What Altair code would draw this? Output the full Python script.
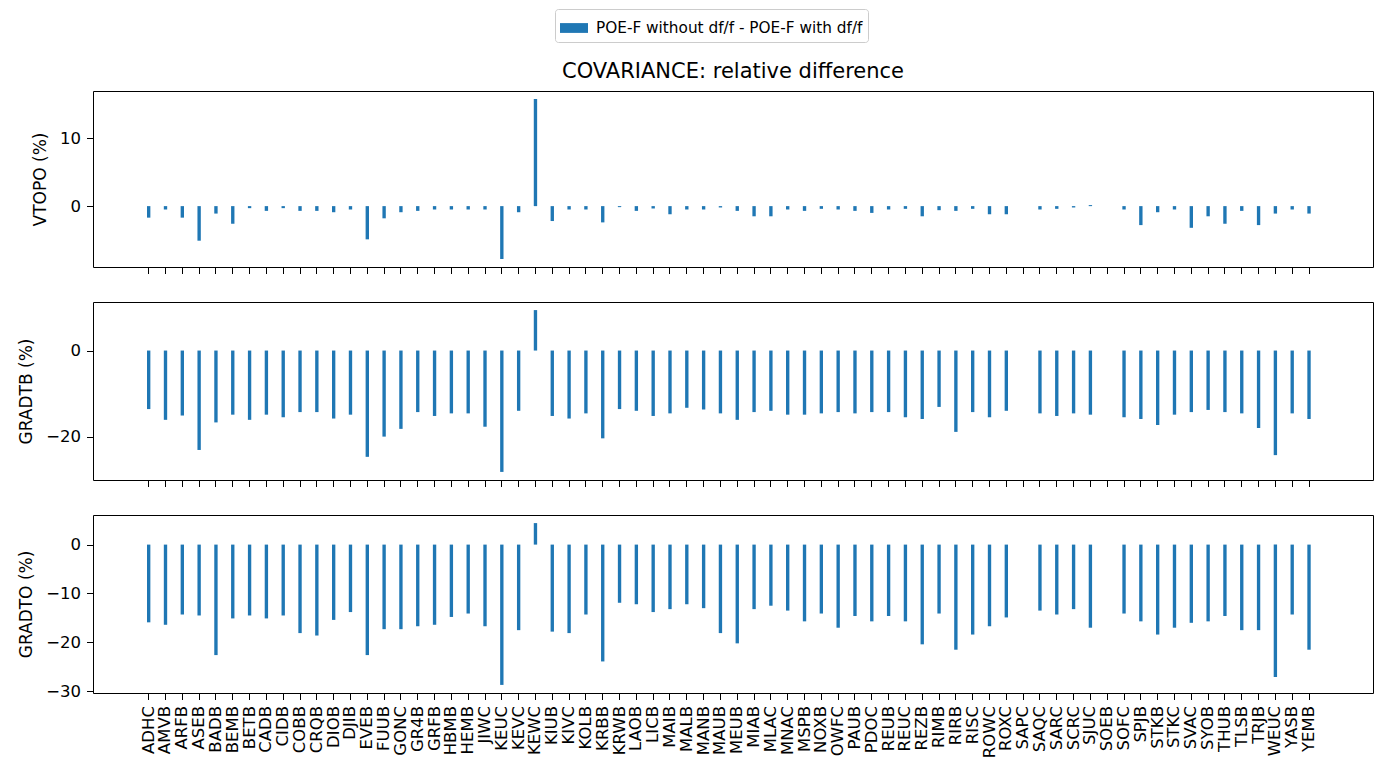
import altair as alt
import pandas as pd

stations = ["ADHC", "AMVB", "ARFB", "ASEB", "BADB", "BEMB", "BETB", "CADB", "CIDB", "COBB",
            "CRQB", "DIOB", "DJIB", "EVEB", "FUUB", "GONC", "GR4B", "GRFB", "HBMB", "HEMB",
            "JIWC", "KEUC", "KEVC", "KEWC", "KIUB", "KIVC", "KOLB", "KRBB", "KRWB", "LAOB",
            "LICB", "MAIB", "MALB", "MANB", "MAUB", "MEUB", "MIAB", "MLAC", "MNAC", "MSPB",
            "NOXB", "OWFC", "PAUB", "PDOC", "REUB", "REUC", "REZB", "RIMB", "RIRB", "RISC",
            "ROWC", "ROXC", "SAPC", "SAQC", "SARC", "SCRC", "SJUC", "SOEB", "SOFC", "SPJB",
            "STKB", "STKC", "SVAC", "SYOB", "THUB", "TLSB", "TRJB", "WEUC", "YASB", "YEMB"]

vtopo = [-1.7, -0.5, -1.7, -5.1, -1.1, -2.6, -0.3, -0.7, -0.3, -0.7,
         -0.7, -0.9, -0.5, -4.9, -1.8, -0.9, -0.7, -0.5, -0.5, -0.5,
         -0.5, -7.8, -0.9, 15.8, -2.2, -0.5, -0.5, -2.4, -0.15, -0.7,
         -0.35, -1.2, -0.5, -0.5, -0.2, -0.7, -1.5, -1.5, -0.5, -0.7,
         -0.4, -0.5, -0.7, -1.0, -0.5, -0.4, -1.5, -0.6, -0.7, -0.4,
         -1.2, -1.2, None, -0.5, -0.4, -0.2, 0.15, None, -0.5, -2.8,
         -0.9, -0.5, -3.2, -1.5, -2.6, -0.7, -2.8, -1.1, -0.5, -1.1]

gradtb = [-13.6, -16.1, -15.1, -23.1, -16.7, -14.9, -16.1, -14.9, -15.5, -14.3,
          -14.3, -15.8, -14.9, -24.7, -20.0, -18.2, -14.3, -15.2, -14.6, -14.6,
          -17.7, -28.2, -14.0, 9.4, -15.2, -15.8, -14.6, -20.4, -13.6, -14.0,
          -15.2, -14.6, -13.3, -13.7, -14.6, -16.1, -14.3, -14.0, -14.9, -14.9,
          -14.6, -14.3, -14.6, -14.3, -14.3, -15.5, -15.9, -13.1, -18.9, -14.3,
          -15.5, -14.0, None, -14.6, -15.2, -14.6, -14.9, None, -15.5, -15.9,
          -17.3, -14.9, -14.3, -13.8, -14.3, -14.6, -18.0, -24.3, -14.6, -15.9]

gradto = [-15.9, -16.4, -14.3, -14.5, -22.6, -15.1, -14.5, -15.1, -14.5, -18.1,
          -18.6, -15.4, -13.8, -22.6, -17.3, -17.3, -16.7, -16.4, -14.8, -14.1,
          -16.7, -28.7, -17.5, 4.4, -17.8, -18.1, -14.3, -23.9, -11.9, -12.2,
          -13.8, -13.2, -12.2, -13.0, -18.1, -20.2, -13.2, -12.5, -13.5, -15.7,
          -14.1, -17.0, -14.6, -15.7, -14.6, -15.7, -20.4, -14.1, -21.5, -18.4,
          -16.7, -14.9, None, -13.5, -14.3, -13.2, -17.0, None, -14.1, -15.7,
          -18.4, -17.0, -16.0, -15.7, -14.6, -17.5, -17.5, -27.1, -14.3, -21.5]

vtopo_ticks = [0, 10]
gradtb_ticks = [-20, 0]
gradto_ticks = [-30, -20, -10, 0]

series_name = "POE-F without df/f - POE-F with df/f"
chart_title = "COVARIANCE: relative difference"

df = pd.DataFrame({"station": stations, "VTOPO": vtopo, "GRADTB": gradtb,
                   "GRADTO": gradto, "series": series_name})

FONT = "DejaVu Sans"
BLUE = "#1f77b4"


def padded(vals):
    v = [x for x in vals if x is not None]
    lo, hi = min(v), max(v)
    m = 0.05 * (hi - lo)
    return [lo - m, hi + m]


def panel(field, ticks, height, show_labels, title=None):
    x = alt.X("station:N", sort=stations, title=None,
              scale=alt.Scale(paddingInner=0.8, paddingOuter=0, range=[54, 1217.7]),
              axis=alt.Axis(labels=show_labels, labelAngle=270, labelFontSize=16.5,
                            labelPadding=6, tickSize=6.5))
    y = alt.Y(f"{field}:Q", title=f"{field} (%)",
              scale=alt.Scale(domain=padded(df[field].tolist()), nice=False, zero=False),
              axis=alt.Axis(values=ticks, labelFontSize=16.5, titleFontSize=17,
                            labelPadding=6, titlePadding=10, tickSize=6.5))
    color = alt.Color("series:N", scale=alt.Scale(range=[BLUE]),
                      legend=alt.Legend(orient="none", legendX=462, legendY=-82,
                                        title=None,
                                        symbolType="M-1,-0.35H1V0.35H-1Z",
                                        symbolSize=784, symbolStrokeWidth=0,
                                        symbolOpacity=1, symbolFillColor=BLUE,
                                        labelFont=FONT, labelFontSize=15.3,
                                        labelColor="#000", labelLimit=0,
                                        labelOffset=8,
                                        strokeColor="#cccccc", fillColor="white",
                                        padding=5, cornerRadius=3))
    c = alt.Chart(df).mark_bar(color=BLUE).encode(x=x, y=y, color=color)
    props = dict(width=1280, height=height)
    if title:
        props["title"] = alt.TitleParams(title, fontSize=21, font=FONT,
                                         fontWeight="normal", anchor="middle",
                                         offset=9, color="#000")
    return c.properties(**props)


p1 = panel("VTOPO", vtopo_ticks, 176, False, chart_title)
p2 = panel("GRADTB", gradtb_ticks, 178, False)
p3 = panel("GRADTO", gradto_ticks, 178, True)

chart = alt.vconcat(p1, p2, p3, spacing=35, bounds="flush").properties(
    padding={"left": 9, "top": 0, "right": 5, "bottom": 0}
).configure_view(
    stroke="#000", strokeWidth=1
).configure_axis(
    domain=False, grid=False, tickColor="#000", labelColor="#000",
    titleColor="#000", labelFont=FONT, titleFont=FONT, titleFontWeight="normal"
)

chart.save("out.html", embed_options={"renderer": "svg", "actions": False})
